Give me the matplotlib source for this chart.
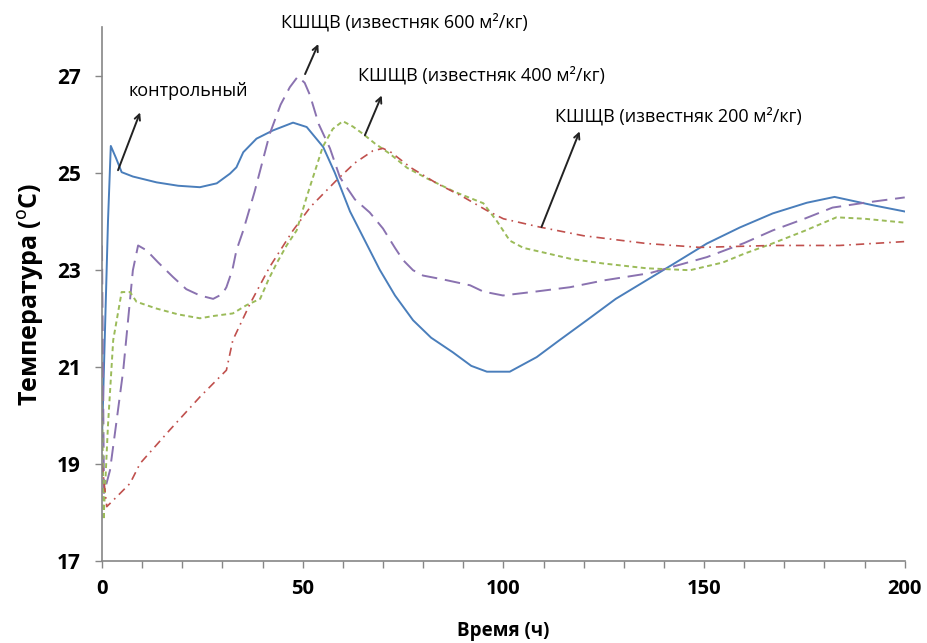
import matplotlib.pyplot as plt

plt.rcParams['font.family'] = ['Open Sans', 'DejaVu Sans']

# контрольный
x_ctrl = [0, 1.5, 2.2, 3.5, 4.9, 7.7, 13.6, 19, 24.4, 28.6, 31.9, 33.5, 35.2, 38.5, 42.6, 47.6,
          51, 55.1, 58, 61.8, 65.5, 69.2, 73, 77.5, 82, 87.4, 92, 95.9, 101.6, 108.3, 114,
          120.8, 128, 134, 142, 150.7, 158.9, 167.1, 175.6, 182.5, 192, 200]
y_ctrl = [19.5, 24.0, 25.55, 25.3, 25.01, 24.92, 24.8, 24.73, 24.70, 24.78, 24.98, 25.11, 25.42, 25.70, 25.87, 26.03,
          25.94, 25.53, 25.0, 24.2, 23.6, 23.0, 22.47, 21.96, 21.6, 21.3, 21.02, 20.9, 20.9, 21.2, 21.55,
          21.96, 22.4, 22.7, 23.1, 23.54, 23.87, 24.16, 24.38, 24.5, 24.33, 24.2]

# известняк 600
x_600 = [0, 0.5, 2, 3.5, 5.3, 7.7, 9, 11.1, 14, 17.7, 21, 24.4, 27.7, 30, 31, 32.5, 33.5, 35.2,
         38, 41.8, 44.5, 46.8, 48.8, 50.5, 51.8, 54, 56.8, 59.3, 63, 66.7, 70, 73, 75, 77.5, 80,
         85, 91.7, 95, 99.9, 108, 116.6, 125, 136.5, 150.7, 160, 167.1, 175, 182, 190, 200]
y_600 = [23.5, 18.4, 18.87, 19.8, 20.93, 22.99, 23.5, 23.4, 23.15, 22.85, 22.6, 22.47, 22.4, 22.5, 22.64, 23.0, 23.4, 23.81,
         24.6, 25.8, 26.4, 26.76, 26.98, 26.85, 26.6, 26.0, 25.5, 24.9, 24.45, 24.18, 23.85, 23.45, 23.2, 22.99, 22.88,
         22.8, 22.68, 22.55, 22.47, 22.55, 22.64, 22.78, 22.93, 23.26, 23.55, 23.81, 24.05, 24.28, 24.38, 24.49]

# известняк 400
x_400 = [0, 0.4, 1.5, 2.8, 4.9, 7, 8.6, 13.6, 19, 24.4, 28, 32.6, 36, 39.4, 41.5, 43.5, 46, 48.5,
         51, 55, 57.5, 60, 62.5, 65, 68, 71.7, 76, 81, 88, 95, 98.4, 101.6, 105, 110.8, 117,
         124.8, 135.7, 146.5, 154.7, 160, 167, 175, 183, 190, 200]
y_400 = [20.4, 17.85, 19.8, 21.55, 22.54, 22.54, 22.34, 22.2, 22.08, 22.0, 22.05, 22.1, 22.27, 22.4, 22.8, 23.13, 23.5, 23.81,
         24.5, 25.53, 25.9, 26.06, 25.95, 25.8, 25.6, 25.39, 25.1, 24.88, 24.6, 24.37, 24.0, 23.6, 23.45, 23.34, 23.22,
         23.13, 23.03, 22.99, 23.15, 23.33, 23.54, 23.8, 24.08, 24.05, 23.97]

# известняк 200
x_200 = [0, 1.2, 4, 7, 9.5, 16.9, 24.4, 31, 32.6, 36.9, 41.8, 47.6, 52, 58.4, 63, 67.5, 70, 72,
         77, 83.4, 90, 95.9, 100, 109, 120, 135.7, 149, 167, 183.8, 200]
y_200 = [19.0, 18.12, 18.35, 18.6, 19.01, 19.7, 20.38, 20.93, 21.55, 22.3, 23.06, 23.81, 24.3, 24.84, 25.2, 25.45, 25.5, 25.42,
         25.1, 24.78, 24.5, 24.22, 24.05, 23.88, 23.7, 23.54, 23.46, 23.5, 23.5, 23.58]

labels = ['контрольный',
          'КШЩВ (известняк 600 м²/кг)',
          'КШЩВ (известняк 400 м²/кг)',
          'КШЩВ (известняк 200 м²/кг)']

fig = plt.figure(figsize=(9.27, 6.43), dpi=100)
ax = fig.add_axes([0.110, 0.1275, 0.866, 0.8305])

ax.plot(x_ctrl, y_ctrl, color='#4a7ebb', lw=1.4)
ax.plot(x_600, y_600, color='#8a72b0', lw=1.4, dashes=(8, 4))
ax.plot(x_400, y_400, color='#9bbb59', lw=1.4, dashes=(2.5, 1.8))
ax.plot(x_200, y_200, color='#c0504d', lw=1.2, dashes=(5, 3, 1, 3))

ax.set_xlim(0, 200)
ax.set_ylim(17, 28)
ax.set_xticks([0, 50, 100, 150, 200])
ax.set_xticks(range(0, 201, 10), minor=True)
ax.set_yticks([17, 19, 21, 23, 25, 27])

for s in ['top', 'right']:
    ax.spines[s].set_visible(False)
for s in ['left', 'bottom']:
    ax.spines[s].set_color('#868686')
    ax.spines[s].set_linewidth(1.2)
ax.tick_params(axis='both', which='both', color='#868686', direction='out', length=5, width=1)
ax.tick_params(axis='x', labelsize=14.5, pad=8)
ax.tick_params(axis='y', labelsize=15, pad=10)
for lbl in ax.get_xticklabels() + ax.get_yticklabels():
    lbl.set_fontweight('bold')

ax.set_xlabel('Время (ч)', fontsize=13.5, fontweight='bold', labelpad=16)
ax.set_ylabel('Температура (' + r'$^{\rm o}$' + 'C)', fontsize=18, fontweight='bold', labelpad=8)

# подписи и стрелки
text_pos = [(6.5, 26.69, 'left'), (75.3, 28.09, 'center'), (94.6, 27.0, 'center'), (143.7, 26.16, 'center')]
arrows = [((4.0, 25.05), (9.5, 26.24)),
          ((50.6, 27.03), (53.9, 27.65)),
          ((65.5, 25.77), (69.7, 26.59)),
          ((109.5, 23.88), (119.0, 25.85))]

for lab, (tx, ty, ha), (tail, head) in zip(labels, text_pos, arrows):
    ax.text(tx, ty, lab, ha=ha, va='center', fontsize=13, clip_on=False)
    ax.annotate('', xy=head, xytext=tail,
                arrowprops=dict(arrowstyle='->', color='#222222', lw=1.4, shrinkA=0, shrinkB=0),
                annotation_clip=False)

fig.savefig('out.png', dpi=100)
